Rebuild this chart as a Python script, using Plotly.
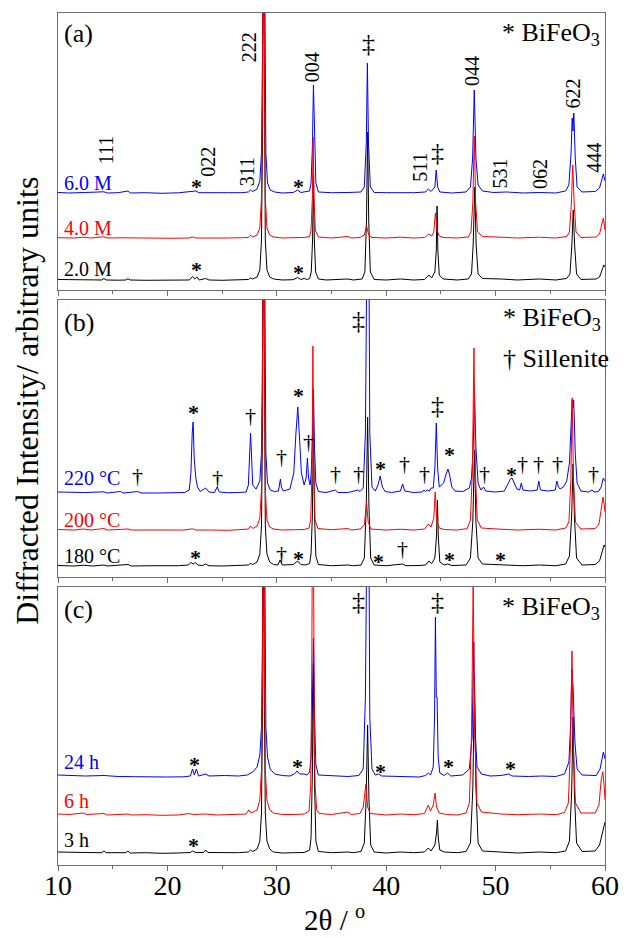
import plotly.graph_objects as go

# ---------------------------------------------------------------------------
# XRD patterns (2theta in degrees, intensity in arbitrary units above each
# pattern's own baseline). Three panels, three patterns each.
# ---------------------------------------------------------------------------

# (a) KOH concentration series
a_2M = [(10.0, 0.5), (11.0, 0.2), (12.0, 0.0), (13.0, 0.3), (14.0, 0.0), (14.2, 1.5), (14.4, 0.0), (15.5, -0.2),
        (16.2, 0.0), (16.4, 1.2), (16.6, 0.0), (18.0, -0.3), (19.5, 0.0), (21.0, -0.3), (22.0, 0.0), (22.3, 3.5),
        (22.5, 1.0), (22.7, 3.0), (22.9, 0.0), (23.5, 1.5), (23.8, 0.0), (25.0, -0.3), (26.5, -0.2), (27.4, 0.5),
        (27.6, 2.0), (27.8, 1.0), (28.2, 3), (28.45, 10), (28.6, 40), (28.7, 150), (28.78, 400), (28.86, 150),
        (28.95, 40), (29.1, 10), (29.35, 3), (29.7, 1), (30.5, 0.0), (31.5, 0.3), (31.9, 2.5), (32.2, 0.5),
        (32.5, 1.5), (32.8, 0.5), (33.0, 1.5), (33.15, 8), (33.27, 40), (33.35, 105), (33.43, 40), (33.55, 8),
        (33.8, 1), (34.5, 0), (35.5, 0.3), (36.5, 1), (37.0, 0), (37.8, 1), (38.05, 8), (38.2, 60), (38.3, 148),
        (38.4, 60), (38.55, 8), (38.9, 0.5), (40.0, 0), (41.3, 1), (42.5, 0), (43.5, 0.5), (43.9, 5), (44.15, 2),
        (44.45, 8), (44.58, 30), (44.65, 74), (44.72, 30), (44.85, 5), (45.2, 1), (46.5, 0), (47.5, 1), (47.8, 6),
        (47.95, 35), (48.1, 93), (48.22, 35), (48.4, 6), (48.8, 1.5), (50.5, 1), (52.0, 0), (54.0, 1), (55.5, 0),
        (56.5, 1.5), (56.8, 6), (56.97, 35), (57.1, 70), (57.22, 35), (57.4, 6), (57.8, 0.5), (59.2, 1), (59.5, 3),
        (59.75, 10), (59.9, 15), (60.0, 13)]

a_4M = [(10.0, 0.3), (11.5, 0), (12.3, 0.8), (13.0, 0), (14.2, 1.2), (14.5, 0), (16.0, 0.2), (17.5, -0.2),
        (19.0, 0), (20.5, -0.3), (22.0, 0), (22.3, 1.0), (22.6, 0), (24.0, -0.2), (25.5, 0), (26.8, 0.3),
        (27.4, 0.5), (27.6, 2.5), (27.8, 1.0), (28.2, 3), (28.45, 10), (28.6, 40), (28.7, 150), (28.78, 400),
        (28.86, 150), (28.95, 40), (29.1, 10), (29.35, 3), (29.7, 1), (30.5, 0), (31.5, 0.3), (32.5, 0.5),
        (33.0, 1.5), (33.13, 8), (33.25, 40), (33.32, 101), (33.4, 40), (33.52, 8), (33.8, 1), (35.0, 0),
        (36.5, 1.5), (36.8, 0), (37.6, 0.5), (38.0, 3), (38.2, 12), (38.4, 3), (38.7, 0.5), (40.0, 0),
        (41.3, 0.8), (42.5, 0), (43.5, 0.5), (43.9, 4), (44.15, 2), (44.35, 6), (44.5, 25), (44.65, 8),
        (44.85, 2), (45.2, 0.5), (46.5, 0), (47.5, 1), (47.75, 6), (47.92, 35), (48.05, 102), (48.18, 35),
        (48.35, 6), (48.8, 1.5), (50.5, 0.8), (52.0, 0), (54.0, 0.8), (55.5, 0), (56.5, 1.5), (56.75, 6),
        (56.93, 35), (57.05, 73), (57.18, 35), (57.35, 6), (57.8, 0.5), (59.2, 1), (59.5, 4), (59.7, 12),
        (59.85, 20), (60.0, 8)]

a_6M = [(10.0, 0.5), (11.0, 0), (12.5, 0.5), (14.2, 1.2), (14.5, 0), (15.5, 0.3), (16.4, 2), (16.6, 0),
        (18.0, 0.3), (19.5, -0.3), (21.0, 0.2), (22.3, 1.5), (22.6, 2), (22.9, 0.3), (24.0, 0), (25.5, 0.3),
        (26.8, 0.3), (27.4, 1), (27.6, 3), (27.8, 1.5), (28.2, 4), (28.45, 12), (28.6, 40), (28.7, 150),
        (28.8, 400), (28.9, 150), (29.0, 40), (29.15, 10), (29.4, 3), (29.8, 1), (30.5, 0), (31.5, 0.5),
        (31.9, 3), (32.2, 0.5), (32.6, 1), (33.0, 2), (33.13, 10), (33.25, 45), (33.35, 108), (33.45, 45),
        (33.57, 10), (33.8, 1), (35.0, 0.3), (36.5, 0.5), (37.7, 1), (38.0, 6), (38.18, 50), (38.28, 130),
        (38.38, 50), (38.55, 6), (38.9, 0.5), (40.0, 0.3), (41.5, 0), (42.5, 0.3), (43.6, 1), (43.85, 4),
        (44.1, 1.5), (44.45, 6), (44.57, 23), (44.7, 6), (44.9, 1), (46.0, 0), (47.3, 1), (47.7, 6), (47.9, 35),
        (48.05, 103), (48.2, 35), (48.4, 8), (48.8, 2), (49.8, 0.5), (51.0, 1), (52.5, 0), (54.0, 0.5),
        (55.5, 0), (56.4, 2), (56.7, 8), (56.9, 40), (57.0, 75), (57.07, 62), (57.15, 80), (57.28, 35),
        (57.45, 6), (57.9, 1), (59.1, 1.5), (59.5, 5), (59.7, 14), (59.85, 19), (60.0, 12)]

# (b) synthesis temperature series
b_180 = [(10.0, 0.5), (11.5, 0), (12.3, 0.8), (13.2, 0), (14.2, 1), (14.5, 0), (16.4, 1.5), (16.7, 0),
         (18.5, 0.3), (20.0, 0), (21.0, 0.3), (21.9, 1), (22.15, 3.5), (22.35, 2), (22.55, 3.5), (22.8, 1),
         (23.2, 0.5), (23.5, 2), (23.8, 0.3), (25.0, 0), (26.5, 0.3), (27.4, 1), (27.6, 2.5), (27.8, 1.5),
         (28.2, 4), (28.45, 12), (28.6, 40), (28.7, 150), (28.78, 400), (28.86, 150), (28.95, 40), (29.1, 12),
         (29.35, 4), (29.7, 1.5), (30.1, 1), (30.3, 6), (30.5, 1), (31.5, 1.5), (31.9, 5), (32.2, 1.5),
         (32.6, 1), (33.0, 2.5), (33.13, 12), (33.25, 50), (33.35, 136), (33.45, 50), (33.57, 10), (33.8, 1.5),
         (35.0, 0.3), (36.5, 1), (37.0, 0.3), (37.7, 1), (38.0, 8), (38.18, 60), (38.3, 149), (38.42, 60),
         (38.58, 8), (38.9, 1), (40.0, 0.3), (41.5, 2), (41.8, 0.3), (43.0, 0.5), (43.6, 1), (43.9, 5),
         (44.15, 2.5), (44.45, 8), (44.6, 30), (44.68, 66), (44.76, 30), (44.9, 4), (45.3, 1), (45.6, 2),
         (46.0, 0.5), (47.3, 1), (47.7, 8), (47.92, 45), (48.07, 116), (48.2, 45), (48.4, 8), (48.8, 2),
         (50.5, 1.5), (51.3, 1), (52.5, 0.3), (54.0, 1), (55.5, 0.3), (56.4, 2), (56.75, 10), (56.95, 50),
         (57.08, 102), (57.2, 50), (57.4, 8), (57.9, 1), (59.1, 1.5), (59.5, 5), (59.75, 15), (59.92, 21),
         (60.0, 19)]

b_200 = [(10.0, 0.5), (11.5, 0), (12.3, 1), (13.0, 0), (14.2, 1.5), (14.5, 0), (16.4, 1), (16.7, 0),
         (18.5, 0), (20.0, -0.3), (21.5, 0), (22.3, 1.2), (22.6, 0), (24.0, 0), (25.5, -0.3), (26.8, 0.5),
         (27.4, 1), (27.6, 4), (27.8, 1.5), (28.2, 4), (28.45, 12), (28.6, 40), (28.7, 150), (28.78, 400),
         (28.86, 150), (28.95, 40), (29.1, 10), (29.35, 3), (29.7, 1), (30.5, 0), (31.5, 0.3), (32.5, 0.5),
         (32.95, 2), (33.1, 10), (33.22, 60), (33.3, 184), (33.38, 60), (33.5, 10), (33.75, 1.5), (35.0, 0.3),
         (36.5, 1.5), (36.8, 0), (37.6, 1), (38.0, 5), (38.2, 28), (38.35, 8), (38.6, 1), (40.0, 0),
         (41.3, 0.8), (42.5, 0), (43.5, 1), (43.85, 6), (44.1, 3), (44.35, 12), (44.48, 38), (44.62, 10),
         (44.85, 2), (45.3, 0.5), (46.5, 0), (47.4, 1.5), (47.7, 10), (47.88, 60), (48.02, 182), (48.15, 60),
         (48.32, 10), (48.7, 2), (50.5, 0.8), (52.0, 0), (54.0, 0.8), (55.5, 0), (56.4, 2), (56.7, 8),
         (56.88, 50), (57.0, 132), (57.12, 50), (57.3, 8), (57.8, 1), (59.1, 1.5), (59.45, 6), (59.7, 25),
         (59.82, 33), (59.93, 25), (60.0, 18)]

b_220 = [(10.0, 1), (11.5, 0.5), (12.5, 0.5), (14.2, 1.2), (14.5, 0), (15.7, 1.5), (16.0, 0), (17.3, 1.5),
         (17.6, 0), (19.0, 0), (20.5, 0.3), (21.2, 1), (21.6, 0.5), (22.0, 3), (22.15, 20), (22.27, 60),
         (22.35, 71), (22.45, 35), (22.6, 15), (22.75, 6), (23.0, 1.5), (23.5, 5), (23.8, 1), (24.3, 0.5),
         (24.55, 6), (24.75, 1), (25.5, 0.3), (26.5, 0.5), (27.2, 1), (27.4, 8), (27.52, 40), (27.6, 60),
         (27.68, 40), (27.8, 8), (28.1, 4), (28.45, 12), (28.6, 40), (28.7, 150), (28.8, 400), (28.9, 150),
         (29.0, 40), (29.15, 10), (29.4, 3), (29.8, 1.5), (30.15, 2), (30.27, 10), (30.33, 14), (30.42, 6),
         (30.6, 2), (31.2, 4), (31.55, 20), (31.75, 60), (31.92, 86), (32.05, 60), (32.25, 20), (32.5, 8),
         (32.68, 15), (32.8, 35), (32.9, 15), (33.05, 8), (33.15, 20), (33.25, 55), (33.35, 104), (33.45, 45),
         (33.57, 10), (33.8, 1.5), (34.5, 0.5), (35.35, 3), (35.6, 0.5), (36.5, 0.5), (37.4, 3), (37.6, 1.5),
         (37.9, 5), (38.1, 60), (38.25, 400), (38.35, 400), (38.5, 60), (38.7, 6), (39.0, 2), (39.25, 8),
         (39.45, 17), (39.65, 6), (39.9, 1.5), (40.5, 0.5), (41.3, 2), (41.5, 9), (41.7, 2), (42.5, 0.5),
         (43.3, 1), (43.45, 3), (43.6, 1.5), (43.75, 3), (43.95, 2), (44.1, 5), (44.3, 5), (44.45, 25),
         (44.58, 70), (44.7, 25), (44.85, 6), (45.05, 8), (45.25, 10), (45.45, 18), (45.65, 24), (45.8, 18),
         (46.0, 6), (46.3, 2), (47.0, 1.5), (47.6, 5), (47.8, 15), (47.95, 45), (48.07, 100), (48.2, 45),
         (48.4, 10), (48.65, 3), (48.9, 6), (49.1, 2), (50.0, 1), (50.8, 2), (51.1, 8), (51.35, 14), (51.5, 15),
         (51.7, 10), (51.95, 4), (52.2, 3), (52.35, 10), (52.5, 3), (53.2, 2), (53.8, 3), (53.95, 12), (54.1, 3),
         (54.8, 2), (55.45, 3), (55.6, 12), (55.75, 6), (55.9, 4), (56.2, 6), (56.5, 12), (56.75, 30),
         (56.92, 70), (57.0, 93), (57.07, 85), (57.14, 93), (57.28, 40), (57.45, 10), (57.8, 2), (58.5, 1),
         (58.8, 3), (59.0, 1), (59.4, 1.5), (59.65, 6), (59.85, 15), (60.0, 12)]

# (c) reaction time series
c_3h = [(10.0, 1), (11.5, 0.3), (12.5, 0.5), (14.0, 0.3), (14.2, 2), (14.4, 0.3), (16.2, 0.3), (16.4, 2),
        (16.6, 0), (18.0, 0.3), (19.5, -0.3), (21.0, 0), (22.1, 0.5), (22.3, 2), (22.6, 0.5), (23.3, 0.5),
        (23.5, 3), (23.7, 0.5), (25.0, 0.3), (26.5, 0.3), (27.4, 1), (27.6, 3), (27.8, 1.5), (28.2, 4),
        (28.45, 12), (28.6, 40), (28.7, 150), (28.78, 400), (28.86, 150), (28.95, 40), (29.1, 12), (29.35, 4),
        (29.7, 1), (30.5, 0), (31.5, 0.3), (32.5, 0.5), (33.0, 3), (33.13, 15), (33.25, 80), (33.35, 190),
        (33.45, 70), (33.57, 12), (33.8, 1.5), (35.0, 0.3), (36.5, 1), (37.0, 0.3), (37.7, 1.5), (38.0, 10),
        (38.17, 55), (38.3, 128), (38.42, 55), (38.58, 8), (38.9, 1), (40.0, 0), (41.3, 1), (42.5, 0.3),
        (43.5, 1), (43.85, 5), (44.1, 2), (44.45, 8), (44.6, 20), (44.68, 33), (44.76, 15), (44.9, 3),
        (45.3, 1), (46.5, 0.3), (47.3, 1.5), (47.7, 10), (47.92, 65), (48.07, 176), (48.2, 65), (48.4, 10),
        (48.8, 2), (50.5, 1), (52.0, 0), (54.0, 1), (55.5, 0.3), (56.4, 2), (56.75, 12), (56.95, 60),
        (57.08, 136), (57.2, 60), (57.4, 10), (57.9, 1.5), (59.1, 2), (59.5, 8), (59.8, 22), (60.0, 31)]

c_6h = [(10.0, 1), (11.0, 0.5), (12.3, 2), (12.6, 0.5), (14.2, 1.5), (14.5, 0), (16.4, 1), (16.7, 0),
        (18.0, 0.3), (19.5, -0.3), (21.0, 0), (22.0, 1.5), (22.3, 0.5), (23.5, 1), (24.5, 0), (26.0, 0.3),
        (27.2, 1), (27.45, 5), (27.65, 2), (28.2, 5), (28.45, 15), (28.6, 45), (28.7, 150), (28.78, 400),
        (28.86, 150), (28.95, 45), (29.1, 15), (29.35, 5), (29.7, 2), (30.5, 0.5), (31.5, 0.5), (32.5, 1),
        (32.95, 4), (33.1, 30), (33.2, 150), (33.3, 400), (33.4, 150), (33.5, 30), (33.65, 5), (33.9, 1.5),
        (35.0, 0.5), (36.5, 3), (36.8, 0.5), (37.6, 1.5), (37.9, 8), (38.05, 25), (38.15, 31), (38.3, 8),
        (38.55, 1.5), (40.0, 0), (41.3, 1), (42.5, 0.3), (43.5, 1.5), (43.85, 10), (44.05, 4), (44.3, 10),
        (44.47, 22), (44.6, 8), (44.85, 2), (45.5, 0.5), (46.5, 0), (47.3, 2), (47.6, 12), (47.8, 80),
        (47.95, 232), (48.1, 80), (48.3, 12), (48.7, 3), (50.5, 1), (52.0, 0.3), (54.0, 1), (55.5, 0.3),
        (56.3, 2.5), (56.65, 12), (56.85, 70), (56.98, 164), (57.1, 70), (57.3, 12), (57.8, 2), (59.1, 2),
        (59.45, 10), (59.65, 35), (59.8, 43), (59.92, 30), (60.0, 15)]

c_24h = [(10.0, 2), (11.0, 1.5), (12.5, 1), (14.2, 1.5), (15.5, 0.5), (17.0, 0.3), (18.5, 0), (20.0, 0),
         (21.5, 0.2), (22.1, 1), (22.3, 8), (22.47, 2), (22.65, 8), (22.85, 1), (23.5, 3), (23.8, 1),
         (25.2, 1.5), (26.5, 1), (27.3, 2), (27.8, 5), (28.2, 10), (28.45, 22), (28.6, 50), (28.7, 150),
         (28.8, 400), (28.9, 150), (29.0, 50), (29.15, 20), (29.4, 8), (29.8, 3), (30.5, 1.5), (31.2, 1),
         (31.6, 3), (31.85, 6), (32.1, 3), (32.5, 3), (32.75, 2), (33.0, 5), (33.13, 20), (33.25, 70),
         (33.35, 139), (33.45, 60), (33.57, 12), (33.8, 2), (35.0, 1), (36.5, 0.5), (37.5, 1.5), (37.9, 8),
         (38.1, 80), (38.25, 400), (38.35, 400), (38.5, 60), (38.7, 8), (39.0, 2), (39.3, 3), (39.6, 1),
         (41.3, 0.5), (43.0, 0), (43.6, 1.5), (43.85, 4), (44.05, 2), (44.3, 10), (44.42, 60), (44.5, 160),
         (44.58, 80), (44.65, 80), (44.75, 20), (44.9, 4), (45.3, 1.5), (45.6, 4), (45.9, 1), (47.0, 2),
         (47.6, 8), (47.85, 40), (48.0, 135), (48.12, 50), (48.3, 10), (48.7, 3), (49.5, 1), (50.5, 1.5),
         (51.2, 3), (51.5, 1), (53.0, 0.5), (54.2, 1), (55.5, 0.5), (56.3, 3), (56.7, 15), (56.85, 50),
         (56.97, 108), (57.08, 90), (57.25, 35), (57.45, 8), (57.9, 2), (59.2, 1.5), (59.55, 8), (59.75, 22),
         (59.85, 25), (60.0, 18)]

series_labels = {
    "a": ["2.0 M", "4.0 M", "6.0 M"],
    "b": ["180 °C", "200 °C", "220 °C"],
    "c": ["3 h", "6 h", "24 h"],
}
x_ticks = [10, 20, 30, 40, 50, 60]

# ---------------------------------------------------------------------------
# Styling / layout
# ---------------------------------------------------------------------------
FONT = "Liberation Serif, Times New Roman, serif"
COLORS = ["#000000", "#ff0000", "#0000ff"]          # low, mid, high
FRAME = "#6e6e6e"

panels = [
    # key, patterns (low, mid, high), vertical stacking offsets, y-domain, y-span
    ("a", [a_2M, a_4M, a_6M], [10, 52, 97], [0.6749, 1.0], 277),
    ("b", [b_180, b_200, b_220], [11, 47, 84], [0.3380, 0.6631], 277),
    ("c", [c_3h, c_6h, c_24h], [12, 50, 88], [0.0, 0.3263], 278),
]
label_y = {"a": [21, 62, 107], "b": [21, 57, 99], "c": [25, 64, 103]}

fig = go.Figure()
draw_order = [2, 0, 1]   # blue underneath, then black, red on top

for i, (key, pats, offs, dom, span) in enumerate(panels):
    ax = "" if i == 0 else str(i + 1)
    for k in draw_order:
        pts = pats[k]
        fig.add_trace(go.Scatter(
            x=[p[0] for p in pts], y=[p[1] + offs[k] for p in pts],
            mode="lines", line=dict(color=COLORS[k], width=1),
            xaxis="x" + ax, yaxis="y" + ax, showlegend=False, hoverinfo="skip"))
    xa = dict(range=[10, 60], domain=[0, 1], showline=True, mirror=True, linecolor=FRAME, linewidth=1,
              ticks="outside", ticklen=5, tickwidth=1, tickcolor=FRAME, tickvals=x_ticks,
              showgrid=False, zeroline=False, anchor="y" + ax,
              minor=dict(dtick=5, tick0=10, ticks="outside", ticklen=3, tickcolor=FRAME, showgrid=False),
              showticklabels=(i == 2), ticklabelstandoff=-10,
              tickfont=dict(family=FONT, size=28, color="#000"))
    if i != 0:
        xa["matches"] = "x"
    ya = dict(range=[0, span], domain=dom, showline=True, mirror=True, linecolor=FRAME, linewidth=1,
              ticks="", showticklabels=False, showgrid=False, zeroline=False, anchor="x" + ax)
    fig.layout["xaxis" + ax] = xa
    fig.layout["yaxis" + ax] = ya

annotations = []


def add_text(text, x, y, panel, size, color="#000", angle=0, xref_domain=False, xanchor="center", yshift=0):
    ax = {"a": "", "b": "2", "c": "3"}[panel]
    annotations.append(dict(
        text=text, x=x, y=y, xref=("x" + ax + " domain") if xref_domain else "x" + ax, yref="y" + ax,
        showarrow=False, textangle=angle, xanchor=xanchor, yanchor="middle", yshift=yshift,
        font=dict(family=FONT, size=size, color=color)))


# panel letters and phase legends
for key in "abc":
    add_text("(%s)" % key, 0.008, 257 if key == "a" else 255, key, 26, xref_domain=True, xanchor="left")
add_text("* BiFeO<sub>3</sub>", 0.995, 256, "a", 26, xref_domain=True, xanchor="right")
add_text("* BiFeO<sub>3</sub>", 0.809, 258, "b", 26, xref_domain=True, xanchor="left")
add_text("† Sillenite", 0.809, 219, "b", 26, xref_domain=True, xanchor="left")
add_text("* BiFeO<sub>3</sub>", 0.995, 257, "c", 26, xref_domain=True, xanchor="right")

# series names
for key in "abc":
    for k in range(3):
        add_text(series_labels[key][k], 0.007, label_y[key][k], key, 20, color=COLORS[k],
                 xref_domain=True, xanchor="left")

# Miller indices of the main phase (panel a)
hkl = [("111", 14.41, 140), ("022", 23.69, 128), ("311", 27.30, 118), ("222", 27.48, 243),
       ("004", 33.24, 223), ("511", 43.06, 123), ("044", 47.84, 219), ("531", 50.36, 116),
       ("062", 54.05, 116), ("622", 57.12, 197), ("444", 58.98, 132)]
for t, x, y in hkl:
    add_text(t, x, y, "a", 20, angle=-90)

# phase markers: (symbol, 2theta, height, panel)
markers = [
    ("‡", 38.35, 247, "a"), ("‡", 44.66, 137, "a"),
    ("*", 22.7, 108, "a"), ("*", 31.95, 108, "a"), ("*", 22.7, 25, "a"), ("*", 31.95, 22, "a"),
    ("‡", 37.45, 257, "b"),
    ("†", 17.3, 102, "b"), ("*", 22.34, 170, "b"), ("†", 24.6, 100, "b"), ("†", 27.57, 162, "b"),
    ("†", 30.45, 121, "b"), ("*", 31.98, 187, "b"), ("†", 32.88, 136, "b"), ("†", 35.34, 104, "b"),
    ("†", 37.5, 104, "b"), ("*", 39.49, 114, "b"), ("†", 41.71, 114, "b"), ("†", 43.51, 104, "b"),
    ("‡", 44.71, 172, "b"), ("*", 45.77, 128, "b"), ("†", 48.98, 104, "b"), ("*", 51.47, 108, "b"),
    ("†", 52.46, 114, "b"), ("†", 53.96, 114, "b"), ("†", 55.68, 114, "b"), ("†", 58.98, 104, "b"),
    ("*", 22.55, 25, "b"), ("†", 30.45, 24, "b"), ("*", 31.95, 24, "b"), ("*", 39.25, 21, "b"),
    ("†", 41.47, 29, "b"), ("*", 45.77, 23, "b"), ("*", 50.48, 23, "b"),
    ("‡", 37.45, 263, "c"), ("‡", 44.66, 263, "c"),
    ("*", 22.5, 105, "c"), ("*", 31.89, 103, "c"), ("*", 39.46, 98, "c"), ("*", 45.7, 103, "c"),
    ("*", 51.32, 101, "c"), ("*", 22.4, 25, "c"),
]
for sym, x, y, p in markers:
    if sym == "*":
        add_text("<b>*</b>", x, y, p, 22, yshift=-5)
    elif sym == "†":
        add_text("†", x, y, p, 22)
    else:
        add_text("‡", x, y, p, 26)

# axis titles
annotations.append(dict(text="Diffracted Intensity/ arbitrary units", x=-0.057, y=0.5446, xref="paper",
                        yref="paper", showarrow=False, textangle=-90, xanchor="center", yanchor="middle",
                        font=dict(family=FONT, size=32, color="#000")))
annotations.append(dict(text="2θ / <sup>o</sup>", x=0.505, y=-0.062, xref="paper", yref="paper",
                        showarrow=False, xanchor="center", yanchor="middle",
                        font=dict(family=FONT, size=29, color="#000")))

fig.update_layout(
    width=631, height=938, margin=dict(l=58, r=18, t=13, b=73),
    paper_bgcolor="white", plot_bgcolor="white", showlegend=False,
    annotations=annotations, font=dict(family=FONT),
)

fig.write_html("out.html")
